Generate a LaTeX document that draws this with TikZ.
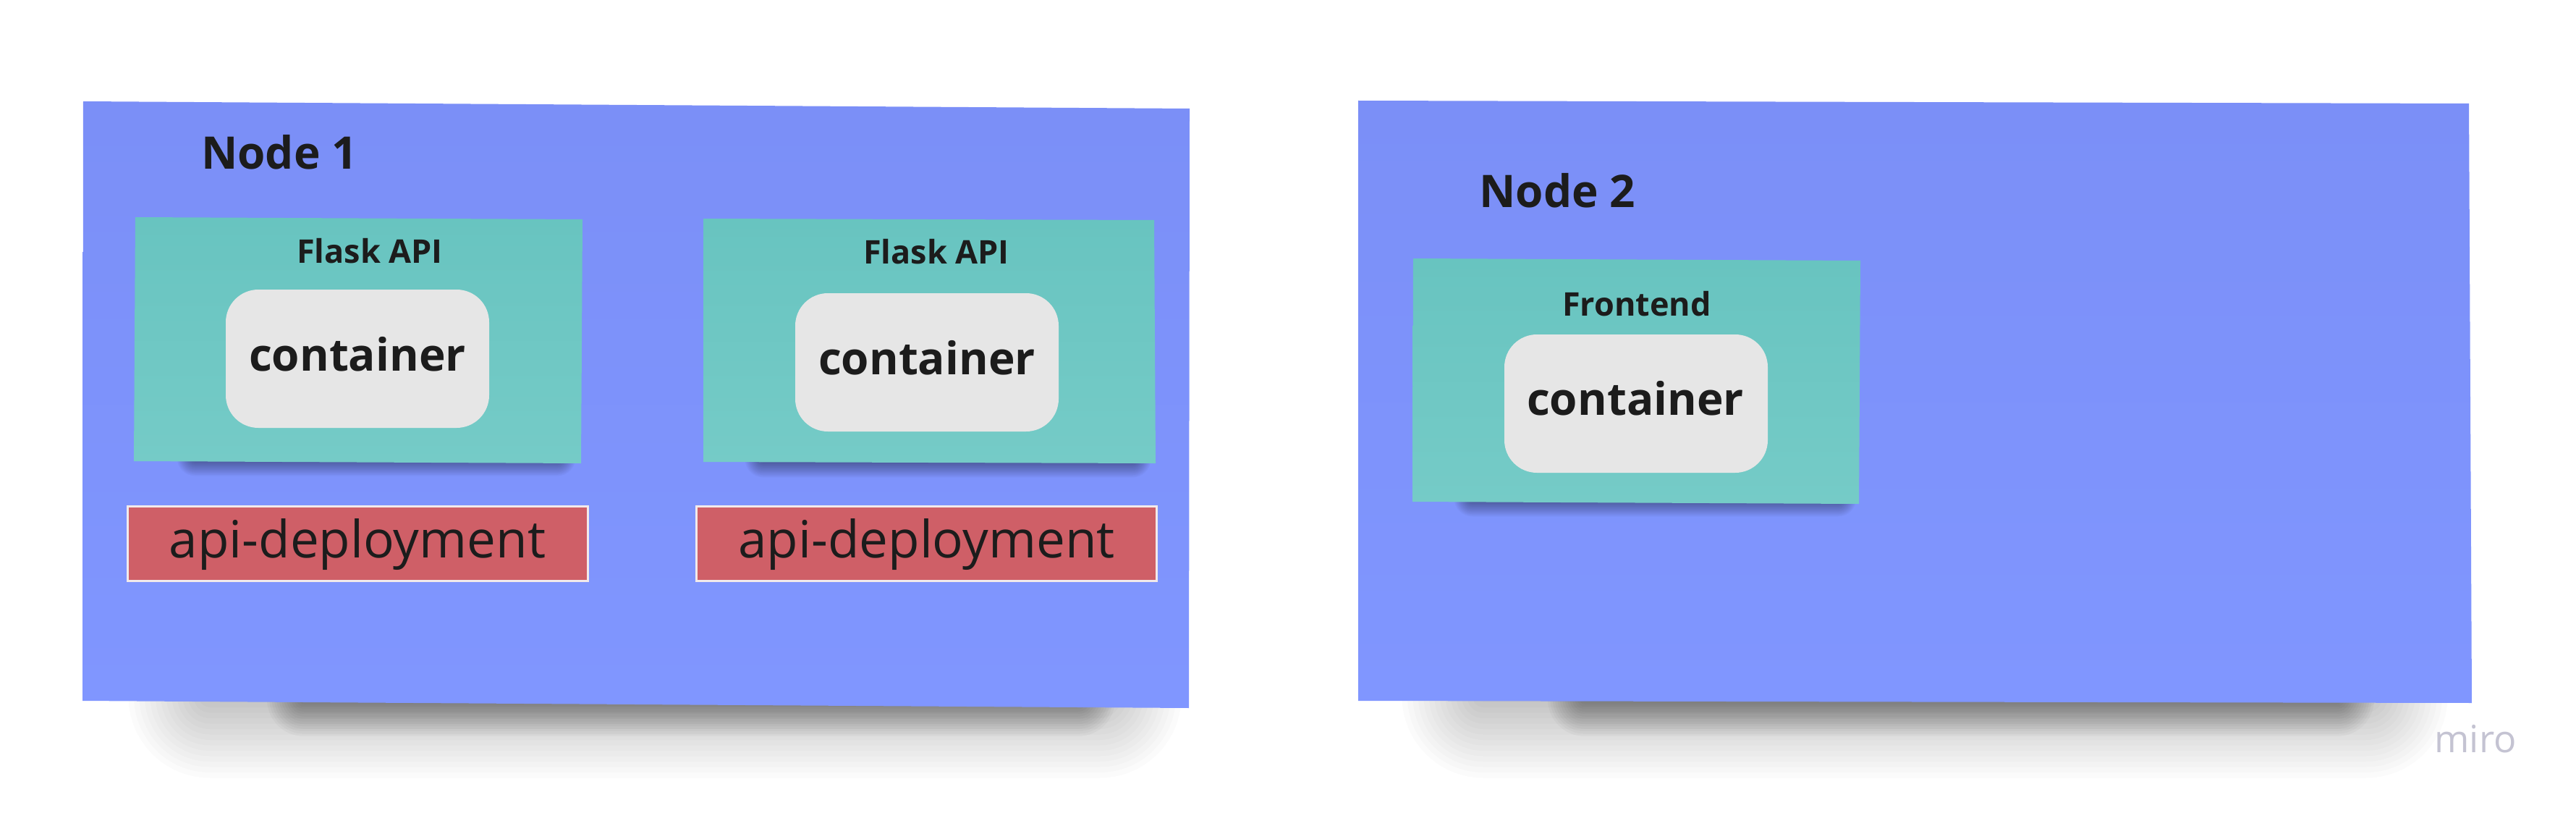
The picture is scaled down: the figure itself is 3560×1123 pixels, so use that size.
\documentclass[tikz,border=0pt]{standalone}
\usepackage{fontspec}
\setmainfont{Open Sans}
\definecolor{nodeblue}{RGB}{128,150,255}
\definecolor{nodebluetop}{RGB}{123,143,247}
\definecolor{tealtop}{RGB}{104,196,192}
\definecolor{tealbot}{RGB}{117,203,199}
\definecolor{contgray}{RGB}{230,230,230}
\definecolor{depred}{RGB}{207,95,103}
\definecolor{depedge}{RGB}{242,234,234}
\definecolor{ink}{RGB}{28,28,28}
\definecolor{mirogray}{RGB}{196,195,210}
\newcommand{\softshade}[6]{% x1 y1 x2 y2 step opacity
  \foreach \i [evaluate=\i as \rr using \i*#5] in {1,...,15} {
    \fill[black, opacity=#6, rounded corners=\rr pt]
      ({#1-\i*#5},{#2-\i*#5}) rectangle ({#3+\i*#5},{#4+\i*#5});
  }%
}
\begin{document}
\begin{tikzpicture}[x=1pt,y=-1pt,
  bigtitle/.style={font=\bfseries\fontsize{62}{70}\selectfont, text=ink, inner sep=0pt},
  subtitle/.style={font=\bfseries\fontsize{45}{52}\selectfont, text=ink, inner sep=0pt, anchor=base},
  conttext/.style={font=\bfseries\fontsize{62}{70}\selectfont, text=ink, inner sep=0pt, anchor=base},
  deptext/.style={font=\fontsize{71}{80}\selectfont, text=ink, inner sep=0pt, anchor=base},
  contbox/.style={fill=contgray, rounded corners=45pt, minimum width=364pt, minimum height=191pt, inner sep=0pt},
  depbox/.style={fill=depred, draw=depedge, line width=3pt, minimum width=636pt, minimum height=103pt, inner sep=0pt},
  stickyblue/.style={top color=nodebluetop, bottom color=nodeblue},
  stickyteal/.style={top color=tealtop, bottom color=tealbot}
]
\useasboundingbox (0,0) rectangle (3560,1123);
\fill[white] (0,0) rectangle (3560,1123);

% shadows of the two big sticky notes: wide light part and tight dark part
\softshade{290}{870}{1520}{962}{7.5}{0.014}
\softshade{420}{900}{1490}{966}{3.4}{0.027}
\softshade{2050}{870}{3270}{962}{7.5}{0.014}
\softshade{2190}{900}{3230}{966}{3.4}{0.027}

% big sticky notes
\shade[stickyblue] (115,140) -- (1644,150) -- (1643,978) -- (114,968) -- cycle;
\shade[stickyblue] (1877,139) -- (3412,143) -- (3416,971) -- (1877,968) -- cycle;

% shadows of the teal sticky notes
\softshade{270}{610}{770}{632}{1.7}{0.03}
\softshade{1055}{612}{1565}{634}{1.7}{0.03}
\softshade{2035}{666}{2540}{688}{1.7}{0.03}

% teal sticky notes
\shade[stickyteal] (187,300) -- (805,303) -- (803,640) -- (185,637) -- cycle;
\shade[stickyteal] (972,302) -- (1595,304) -- (1597,640) -- (972,638) -- cycle;
\shade[stickyteal] (1953,357) -- (2571,360) -- (2569,696) -- (1952,693) -- cycle;

% containers
\node[contbox] (cont1) at (494,495.5) {};
\node[contbox] (cont2) at (1281,500.5) {};
\node[contbox] (cont3) at (2261,557.5) {};

% deployments
\node[depbox] (dep1) at (494,751) {};
\node[depbox] (dep2) at (1280.5,751) {};

% texts
\node[bigtitle, anchor=base west] (title1) at (278,234) {Node 1};
\node[bigtitle, anchor=base west] (title2) at (2044,287) {Node 2};
\node[subtitle] (flask1) at (511,363) {Flask API};
\node[subtitle] (flask2) at (1294,364) {Flask API};
\node[subtitle] (front) at (2262,436) {Frontend};
\node[conttext] (ct1) at (494,512) {container};
\node[conttext] (ct2) at (1281,517) {container};
\node[conttext] (ct3) at (2260,573) {container};
\node[deptext] (dt1) at (494,770) {api-deployment};
\node[deptext] (dt2) at (1280.5,770) {api-deployment};
\node[font=\fontsize{52}{58}\selectfont, text=mirogray, inner sep=0pt, anchor=base] (miro) at (3421,1039) {miro};
\end{tikzpicture}
\end{document}
